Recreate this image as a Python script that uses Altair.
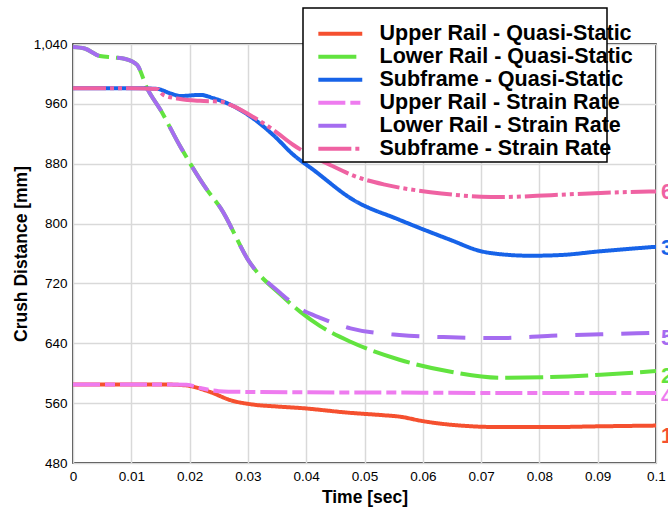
import altair as alt
import pandas as pd

series_names = [
    "Upper Rail - Quasi-Static",
    "Lower Rail - Quasi-Static",
    "Subframe - Quasi-Static",
    "Upper Rail - Strain Rate",
    "Lower Rail - Strain Rate",
    "Subframe - Strain Rate",
]
colors = ["#f5502f", "#62e33f", "#1763e8", "#ee7bef", "#a56cf0", "#ef62a2"]
dashes = [[1, 0], [38, 7], [1, 0], [27, 5, 10, 5], [28, 18], [33, 4, 4, 4, 4, 4]]
end_labels = ["1", "2", "3", "4", "5", "6"]
end_label_y = [516, 596, 767, 568, 647, 842]

t_upper_qs = [0, 0.005, 0.01, 0.015, 0.019, 0.0235, 0.027, 0.031, 0.035, 0.039, 0.0476,
              0.053, 0.056, 0.06, 0.065, 0.0734, 0.082, 0.09, 0.1]
v_upper_qs = [585, 585, 585, 585, 584, 575, 564, 558, 555.5, 553.5, 547,
              544, 542, 536, 531, 528, 528, 529, 530]

t_lower_qs = [0, 0.002, 0.0046, 0.007, 0.009, 0.011, 0.0127, 0.015, 0.0184, 0.023, 0.0253,
              0.0304, 0.0356, 0.039, 0.0424, 0.0476, 0.056, 0.0648, 0.0734, 0.082, 0.0905, 0.1]
v_lower_qs = [1036, 1034, 1024, 1022, 1020, 1012, 981, 952, 903, 845, 821,
              747, 705, 682, 663, 642, 618, 602, 594, 595, 598, 603]

t_sub_qs = [0, 0.005, 0.01, 0.0144, 0.0167, 0.0184, 0.0218, 0.0241, 0.0275, 0.031, 0.0344,
            0.0378, 0.0412, 0.048, 0.056, 0.0648, 0.07, 0.0734, 0.0785, 0.0837, 0.0905, 0.1]
v_sub_qs = [981, 981, 981, 980, 974, 970.5, 972, 967.5, 957, 940, 918,
            892, 872, 832, 805, 778, 763, 759, 757, 758, 763, 769]

t_upper_sr = [0, 0.005, 0.01, 0.015, 0.0195, 0.022, 0.025, 0.03, 0.04, 0.06, 0.08, 0.1]
v_upper_sr = [585, 585, 585, 585, 584.5, 580, 576, 575, 574.5, 574, 573.5, 573.5]

t_lower_sr = [0, 0.002, 0.0046, 0.007, 0.009, 0.011, 0.0127, 0.015, 0.0184, 0.023, 0.0253,
              0.0304, 0.0356, 0.039, 0.0424, 0.0476, 0.056, 0.0648, 0.0734, 0.082, 0.0905, 0.1]
v_lower_sr = [1036, 1034, 1024, 1022, 1020, 1012, 981, 952, 903, 845, 821,
              747, 707, 686, 674, 660, 651, 648, 647, 650, 652, 654]

t_sub_sr = [0, 0.005, 0.01, 0.0144, 0.0155, 0.0184, 0.0218, 0.0253, 0.0275, 0.031, 0.0344,
            0.0378, 0.0442, 0.0488, 0.0535, 0.0613, 0.07, 0.0734, 0.082, 0.0905, 0.1]
v_sub_sr = [981, 981, 981, 980, 972, 966.5, 964, 963, 957, 942, 925,
            905, 878, 862, 852, 842, 836, 835.5, 838, 841, 843]

all_t = [t_upper_qs, t_lower_qs, t_sub_qs, t_upper_sr, t_lower_sr, t_sub_sr]
all_v = [v_upper_qs, v_lower_qs, v_sub_qs, v_upper_sr, v_lower_sr, v_sub_sr]

rows = []
for name, ts, vs in zip(series_names, all_t, all_v):
    for t, v in zip(ts, vs):
        rows.append({"series": name, "t": t, "v": v})
df = pd.DataFrame(rows)

lab_df = pd.DataFrame({
    "series": series_names,
    "t": [0.1] * 6,
    "v": end_label_y,
    "label": end_labels,
})

x_ticks = [0, 0.01, 0.02, 0.03, 0.04, 0.05, 0.06, 0.07, 0.08, 0.09, 0.1]
y_ticks = [480, 560, 640, 720, 800, 880, 960, 1040]

FONT = "Liberation Sans"

x_enc = alt.X("t:Q", scale=alt.Scale(domain=[0, 0.1], nice=False),
              axis=alt.Axis(values=x_ticks, format=".2~f", title="Time [sec]", labelFlush=False))
y_enc = alt.Y("v:Q", scale=alt.Scale(domain=[480, 1040], nice=False, zero=False),
              axis=alt.Axis(values=y_ticks, format=",.0f", title="Crush Distance [mm]", labelFlush=False))
leg = alt.Legend(title=None, orient="none", legendX=230, legendY=-33)
color_enc = alt.Color("series:N", scale=alt.Scale(domain=series_names, range=colors), legend=leg)
dash_enc = alt.StrokeDash("series:N", scale=alt.Scale(domain=series_names, range=dashes), legend=leg)

lines = alt.Chart(df).mark_line(strokeWidth=4, interpolate="monotone", clip=True).encode(
    x=x_enc, y=y_enc, color=color_enc, strokeDash=dash_enc, detail="series:N"
)

labels = alt.Chart(lab_df).mark_text(
    align="left", baseline="middle", dx=5, fontSize=22, fontWeight="bold", font=FONT
).encode(
    x="t:Q", y="v:Q",
    color=alt.Color("series:N", scale=alt.Scale(domain=series_names, range=colors), legend=None),
    text="label:N",
)

legend_box = alt.Chart(pd.DataFrame({"k": [0]})).mark_rect(
    fill="white", stroke="black", strokeWidth=1.5, clip=False
).encode(
    x=alt.value(230), x2=alt.value(534), y=alt.value(-36), y2=alt.value(118)
)

chart = alt.layer(lines, labels, legend_box).properties(
    width=583, height=419,
    autosize=alt.AutoSizeParams(type="none"),
    padding={"left": 73, "top": 44, "right": 12, "bottom": 47},
).configure_view(
    stroke="black", strokeWidth=1.5
).configure_axis(
    labelFont=FONT, titleFont=FONT, labelFontSize=13.5, titleFontSize=17.5,
    titleFontWeight="bold", labelColor="black", titleColor="black",
    grid=True, gridColor="#d9d9d9", gridWidth=1.5, ticks=False,
    domain=False, labelPadding=6,
).configure_axisY(
    titlePadding=3
).configure_axisX(
    titlePadding=6
).configure_legend(
    labelFont=FONT, labelFontSize=21.5, labelFontWeight="bold", labelColor="black",
    symbolType="M-1.4,0H6.9", symbolSize=112, symbolStrokeWidth=4,
    padding=12, rowPadding=0,
    labelOffset=43, labelLimit=400,
)

chart.save("out.html", embed_options={"renderer": "svg", "actions": False})
